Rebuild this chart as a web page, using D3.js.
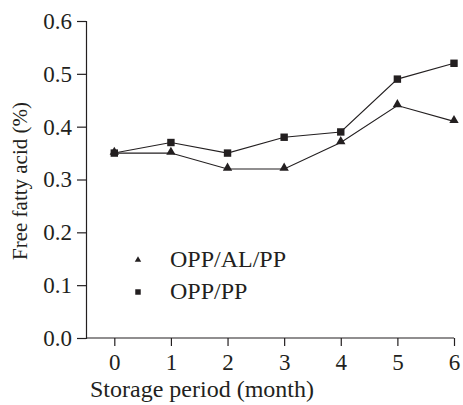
<!DOCTYPE html>
<html>
<head>
<meta charset="utf-8">
<script src="https://cdn.jsdelivr.net/npm/d3@7"></script>
<style>
  body { margin: 0; background: #fff; }
  text { font-family: "Liberation Serif", "DejaVu Serif", serif; fill: #231f20; }
</style>
</head>
<body>
<script>
// Data
const months = [0, 1, 2, 3, 4, 5, 6];
const oppAlPp = [0.35, 0.35, 0.32, 0.32, 0.37, 0.44, 0.41];
const oppPp = [0.35, 0.37, 0.35, 0.38, 0.39, 0.49, 0.52];
const yTicks = [0.0, 0.1, 0.2, 0.3, 0.4, 0.5, 0.6];
const seriesNames = ["OPP/AL/PP", "OPP/PP"];

const W = 463, H = 405;
const margin = {top: 21, right: 9, bottom: 67, left: 86};
const width = W - margin.left - margin.right;
const height = H - margin.top - margin.bottom;
const ink = "#231f20";

const svg = d3.select("body").append("svg")
    .attr("width", W)
    .attr("height", H);

const g = svg.append("g")
    .attr("transform", "translate(" + margin.left + "," + margin.top + ")");

// Scales
const x = d3.scaleLinear().domain([-0.5, 6]).range([0, width]);
const y = d3.scaleLinear().domain([0, 0.6]).range([height, 0]);

// Axes
const xAxis = g.append("g")
    .attr("transform", "translate(0," + height + ")")
    .call(d3.axisBottom(x).tickValues(months).tickFormat(d3.format("d")).tickSizeOuter(0).tickSize(8).tickPadding(8));

const yAxis = g.append("g")
    .call(d3.axisLeft(y).tickValues(yTicks).tickFormat(d3.format(".1f")).tickSizeOuter(0).tickSize(9).tickPadding(5));

[xAxis, yAxis].forEach(a => {
  a.select(".domain").attr("stroke", ink).attr("stroke-width", 1.2);
  a.selectAll(".tick line").attr("stroke", ink).attr("stroke-width", 1.2);
  a.selectAll(".tick text").style("font-size", "23px").attr("fill", ink);
});

// extend x domain line to the right end
xAxis.select(".domain").attr("d", "M0,0H" + width);

// Axis titles
svg.append("text")
    .attr("x", 202)
    .attr("y", 397)
    .attr("text-anchor", "middle")
    .style("font-size", "24px")
    .text("Storage period (month)");

svg.append("text")
    .attr("transform", "translate(27,181) rotate(-90)")
    .attr("text-anchor", "middle")
    .style("font-size", "21px")
    .text("Free fatty acid (%)");

// Lines
const line = d3.line()
    .x((d, i) => x(months[i]))
    .y(d => y(d));

[oppAlPp, oppPp].forEach(s => {
  g.append("path")
      .datum(s)
      .attr("fill", "none")
      .attr("stroke", ink)
      .attr("stroke-width", 1.1)
      .attr("d", line);
});

// Markers
const tri = d3.symbol().type(d3.symbolTriangle).size(38);
const sq = d3.symbol().type(d3.symbolSquare).size(55);

g.selectAll(".tri")
    .data(oppAlPp)
    .enter().append("path")
    .attr("class", "tri")
    .attr("d", tri)
    .attr("transform", (d, i) => "translate(" + x(months[i]) + "," + (y(d) - 1) + ")")
    .attr("fill", ink);

g.selectAll(".sq")
    .data(oppPp)
    .enter().append("path")
    .attr("class", "sq")
    .attr("d", sq)
    .attr("transform", (d, i) => "translate(" + x(months[i]) + "," + y(d) + ")")
    .attr("fill", ink);

// Legend
const legend = svg.selectAll(".legend")
    .data(seriesNames)
    .enter().append("g")
    .attr("class", "legend")
    .attr("transform", (d, i) => "translate(138," + (260 + i * 32) + ")");

legend.append("path")
    .attr("d", (d, i) => i === 0 ? d3.symbol().type(d3.symbolTriangle).size(18)() : d3.symbol().type(d3.symbolSquare).size(30)())
    .attr("fill", ink);

legend.append("text")
    .attr("x", 32)
    .attr("y", 7)
    .style("font-size", "24px")
    .text(d => d);
</script>
</body>
</html>
